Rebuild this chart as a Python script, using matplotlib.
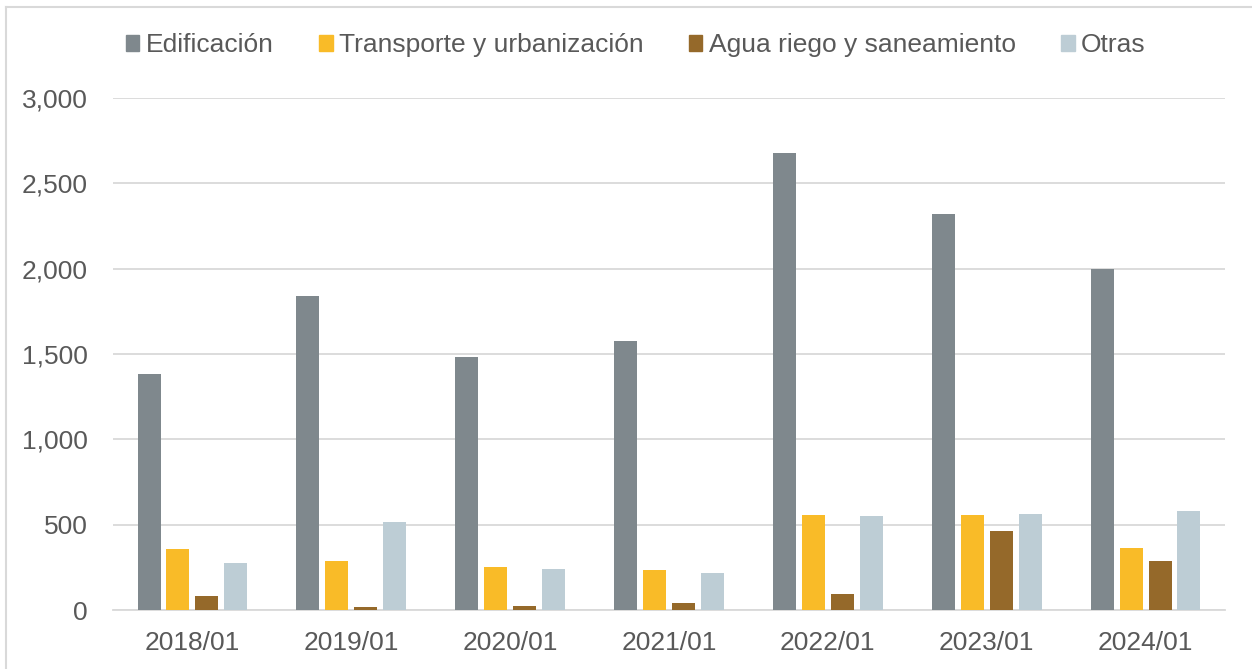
import numpy as np
import matplotlib.pyplot as plt
from matplotlib.patches import Patch
from matplotlib.lines import Line2D

plt.rcParams['font.family'] = ['Liberation Sans', 'DejaVu Sans']

# datos
periodos = ['2018/01', '2019/01', '2020/01', '2021/01', '2022/01', '2023/01', '2024/01']
edificacion = [1380, 1840, 1482, 1578, 2678, 2320, 1998]
transporte = [357, 287, 250, 232, 556, 555, 361]
agua = [80, 20, 23, 43, 92, 463, 287]
otras = [275, 514, 240, 219, 549, 562, 582]

series = ['Edificación', 'Transporte y urbanización', 'Agua riego y saneamiento', 'Otras']
colores = ['#7F888D', '#F9BB28', '#95692A', '#BDCDD5']
texto = '#595959'

fig = plt.figure(figsize=(12.52, 6.69), dpi=100)
ax = fig.add_axes([113/1252, 1-610/669, (1225-113)/1252, (610-98)/669])

x = np.arange(len(periodos))
paso = 0.182
ancho = 0.145
for i, (vals, c) in enumerate(zip([edificacion, transporte, agua, otras], colores)):
    ax.bar(x + (i-1.5)*paso, vals, ancho, color=c, zorder=3)

ax.set_xlim(-0.5, len(periodos)-0.5)
ax.set_ylim(0, 3000)
ax.set_yticks(range(0, 3001, 500))
ax.set_yticklabels([f'{v:,}' for v in range(0, 3001, 500)])
ax.set_xticks(x)
ax.set_xticklabels(periodos)
ax.grid(axis='y', color='#D9D9D9', lw=1.3, zorder=0)
for s in ['top', 'right', 'left']:
    ax.spines[s].set_visible(False)
ax.spines['bottom'].set_color('#D9D9D9')
ax.spines['bottom'].set_linewidth(1.3)
ax.tick_params(axis='both', length=0, labelsize=19, colors=texto)
ax.tick_params(axis='y', pad=18)
ax.tick_params(axis='x', pad=15)

handles = [Patch(color=c) for c in colores]
fig.legend(handles, series, loc='center', bbox_to_anchor=(0.508, 1-45/669), ncol=4,
           frameon=False, fontsize=19, labelcolor=texto, handlelength=0.5,
           handleheight=0.55, handletextpad=0.25, columnspacing=1.72)

# marco del grafico
fig.add_artist(Line2D([6/1252, 6/1252], [0, 1-7/669], color='#D9D9D9', lw=1.5))
fig.add_artist(Line2D([6/1252, 1], [1-7/669, 1-7/669], color='#D9D9D9', lw=1.5))

fig.savefig('out.png', dpi=100)
